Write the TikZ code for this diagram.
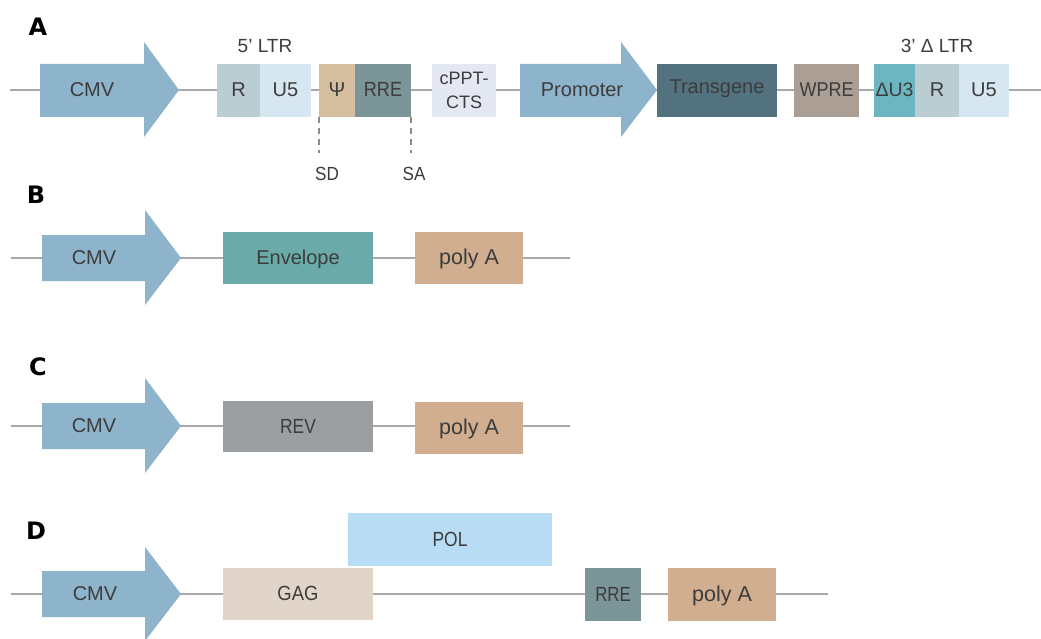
\documentclass[tikz,border=0pt]{standalone}
\usepackage{fontspec}
\usepackage{graphicx}
\setmainfont{Liberation Sans}
\newfontfamily\lblfont{DejaVu Sans}
\newcommand{\condtxt}[2][0.85]{\scalebox{#1}[1]{#2}}
\definecolor{txt}{HTML}{3C3C3C}
\definecolor{linec}{HTML}{A8A8A8}
\definecolor{dashc}{HTML}{8A8A8A}
\definecolor{arrowc}{HTML}{8EB4CC}
\definecolor{cR}{HTML}{B9CDD3}
\definecolor{cU}{HTML}{D6E7F2}
\definecolor{cPsi}{HTML}{D4BE9F}
\definecolor{cRRE}{HTML}{7B9599}
\definecolor{cPPT}{HTML}{E4E8F2}
\definecolor{cTrans}{HTML}{52727F}
\definecolor{cWPRE}{HTML}{AA9E95}
\definecolor{cdU}{HTML}{6BB6C1}
\definecolor{cEnv}{HTML}{6AABAA}
\definecolor{cPolyA}{HTML}{D1AE8F}
\definecolor{cREV}{HTML}{9B9FA2}
\definecolor{cGAG}{HTML}{E1D5C9}
\definecolor{cPOL}{HTML}{B8DCF3}
\tikzset{
  gtext/.style={text=txt, font=\fontsize{20}{24}\selectfont, inner sep=0pt, outer sep=0pt},
  seg/.style={gtext, anchor=north west, text height=14pt, text depth=1pt},
  bigc/.style={font=\fontsize{20.5}{24}\selectfont},
  polyfont/.style={font=\fontsize{21.5}{25}\selectfont},
  backbone/.style={draw=linec, line width=2pt},
  arrowfill/.style={fill=arrowc},
  lbl/.style={font=\lblfont\bfseries\fontsize{24}{28}\selectfont, text=black, inner sep=0pt},
  site/.style={draw=dashc, line width=1.2pt, dash pattern=on 6pt off 5pt}
}
\begin{document}
\begin{tikzpicture}[x=1pt,y=-1pt]
\useasboundingbox[fill=white] (0,0) rectangle (1041,639);

% ---------------- Row A ----------------
\node[lbl] (labA) at (38,27) {A};
\coordinate (a0) at (10,90);
\coordinate (a1) at (1041,90);
\draw[backbone] (a0) -- (a1);
\fill[arrowfill] (40,64) -- (144,64) -- (144,42) -- (179,90) -- (144,137) -- (144,117) -- (40,117) -- cycle;
\node[gtext, text height=14pt, text depth=1pt] (acmv) at (92,90.5) {CMV};
\node[seg, fill=cR, minimum width=43pt, minimum height=53pt] (aR) at (217,64) {R};
\node[seg, fill=cU, minimum width=51pt, minimum height=53pt] (aU5) at (260,64) {U5};
\node[seg, fill=cPsi, minimum width=36pt, minimum height=53pt] (aPsi) at (319,64) {Ψ};
\node[seg, bigc, fill=cRRE, minimum width=56pt, minimum height=53pt] (aRRE) at (355,64) {\condtxt[0.88]{RRE}};
\node[gtext, anchor=north west, fill=cPPT, minimum width=64pt, minimum height=53pt, align=center, font=\fontsize{18}{24}\selectfont] (acppt) at (432,64) {cPPT-\\CTS};
\fill[arrowfill] (520,64) -- (621,64) -- (621,42) -- (657,90) -- (621,137) -- (621,117) -- (520,117) -- cycle;
\node[gtext, text height=14pt, text depth=1pt] (aprom) at (582,90.5) {Promoter};
\node[seg, fill=cTrans, minimum width=120pt, minimum height=53pt] (atrans) at (657,64) {\raisebox{3pt}{Transgene}};
\node[seg, fill=cWPRE, minimum width=65pt, minimum height=53pt, font=\fontsize{20}{24}\selectfont] (awpre) at (794,64) {\condtxt[0.9]{WPRE}};
\node[seg, fill=cdU, minimum width=41pt, minimum height=53pt, font=\fontsize{19.5}{22}\selectfont] (adu3) at (874,64) {ΔU3};
\node[seg, fill=cR, minimum width=44pt, minimum height=53pt] (aR2) at (915,64) {R};
\node[seg, fill=cU, minimum width=50pt, minimum height=53pt] (aU52) at (959,64) {U5};
\node[gtext, font=\fontsize{19}{22}\selectfont] (ltr5) at (265,46.5) {5’ LTR};
\node[gtext, font=\fontsize{19}{22}\selectfont] (ltr3) at (937,46) {3’ Δ LTR};
\coordinate (sdtop) at (aPsi.south west);
\coordinate (satop) at (aRRE.south east);
\coordinate (sdbot) at (319,153);
\coordinate (sabot) at (411,153);
\draw[site] (sdtop) -- (sdbot);
\draw[site] (satop) -- (sabot);
\node[gtext, font=\fontsize{19}{22}\selectfont] (sd) at (327,174) {\condtxt[0.9]{SD}};
\node[gtext, font=\fontsize{19}{22}\selectfont] (sa) at (414,174) {\condtxt[0.9]{SA}};

% ---------------- Row B ----------------
\node[lbl] (labB) at (36,195) {B};
\coordinate (b0) at (11,258);
\coordinate (b1) at (570,258);
\draw[backbone] (b0) -- (b1);
\fill[arrowfill] (42,235) -- (145,235) -- (145,210) -- (181,258) -- (145,305) -- (145,281) -- (42,281) -- cycle;
\node[gtext, text height=14pt, text depth=1pt] (bcmv) at (94,258) {CMV};
\node[seg, fill=cEnv, minimum width=150pt, minimum height=52pt] (benv) at (223,232) {Envelope};
\node[seg, polyfont, fill=cPolyA, minimum width=108pt, minimum height=52pt] (bpoly) at (415,232) {poly A};

% ---------------- Row C ----------------
\node[lbl] (labC) at (38,367) {C};
\coordinate (c0) at (11,426);
\coordinate (c1) at (570,426);
\draw[backbone] (c0) -- (c1);
\fill[arrowfill] (42,403) -- (145,403) -- (145,378) -- (181,426) -- (145,473) -- (145,449) -- (42,449) -- cycle;
\node[gtext, text height=14pt, text depth=1pt] (ccmv) at (94,426) {CMV};
\node[seg, bigc, fill=cREV, minimum width=150pt, minimum height=51pt] (crev) at (223,401) {\condtxt{REV}};
\node[seg, polyfont, fill=cPolyA, minimum width=108pt, minimum height=52pt] (cpoly) at (415,402) {poly A};

% ---------------- Row D ----------------
\node[lbl] (labD) at (36,531) {D};
\coordinate (d0) at (11,594);
\coordinate (d1) at (828,594);
\draw[backbone] (d0) -- (d1);
\fill[arrowfill] (42,571) -- (145,571) -- (145,547) -- (181,594) -- (145,641) -- (145,617) -- (42,617) -- cycle;
\node[gtext, text height=14pt, text depth=1pt] (dcmv) at (95,594) {CMV};
\node[seg, bigc, fill=cGAG, minimum width=150pt, minimum height=52pt] (dgag) at (223,568) {\condtxt[0.9]{GAG}};
\node[seg, bigc, fill=cPOL, minimum width=204pt, minimum height=53pt] (dpol) at (348,513) {\condtxt{POL}};
\node[seg, bigc, fill=cRRE, minimum width=56pt, minimum height=53pt] (drre) at (585,568) {\condtxt[0.82]{RRE}};
\node[seg, polyfont, fill=cPolyA, minimum width=108pt, minimum height=53pt] (dpoly) at (668,568) {poly A};
\end{tikzpicture}
\end{document}
